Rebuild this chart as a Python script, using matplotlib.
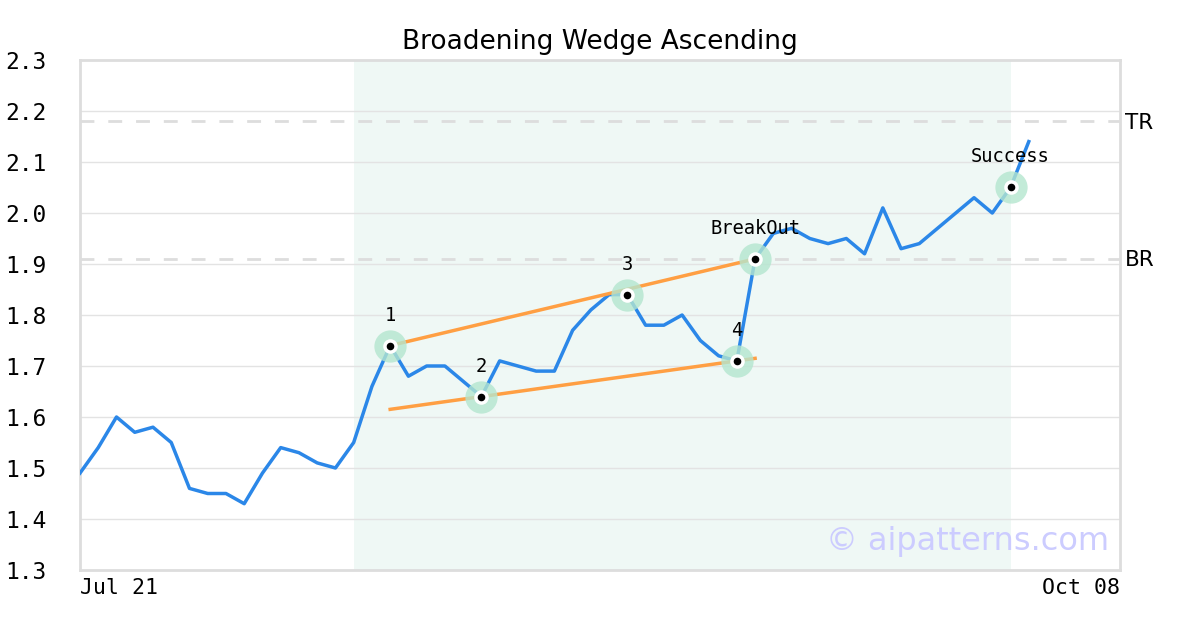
import matplotlib
matplotlib.use("Agg")
import matplotlib.pyplot as plt

values = [1.49, 1.54, 1.60, 1.57, 1.58, 1.55, 1.46, 1.45, 1.45, 1.43,
          1.49, 1.54, 1.53, 1.51, 1.50, 1.55, 1.66, 1.74, 1.68, 1.70,
          1.70, 1.67, 1.64, 1.71, 1.70, 1.69, 1.69, 1.77, 1.81, 1.84,
          1.84, 1.78, 1.78, 1.80, 1.75, 1.72, 1.71, 1.91, 1.96, 1.97,
          1.95, 1.94, 1.95, 1.92, 2.01, 1.93, 1.94, 1.97, 2.00, 2.03,
          2.00, 2.05, 2.14]
x_labels = ["Jul 21", "Oct 08"]
x_max = 57
shade_range = (15, 51)
points_idx = [17, 22, 30, 36, 37, 51]
points_lbl = ["1", "2", "3", "4", "BreakOut", "Success"]
upper_line = ([17, 37], [1.74, 1.91])
lower_line = ([17, 37], [1.615, 1.715])
tr_level = 2.18
br_level = 1.91
yticks = [1.3, 1.4, 1.5, 1.6, 1.7, 1.8, 1.9, 2.0, 2.1, 2.2, 2.3]

fig = plt.figure(figsize=(12, 6.3), dpi=100)
ax = fig.add_axes([80/1200, 60/630, 1040/1200, 510/630])
ax.set_xlim(0, x_max)
ax.set_ylim(1.3, 2.3)

ax.axvspan(shade_range[0], shade_range[1], color="#eff8f5", zorder=0, lw=0)
for y in yticks:
    ax.axhline(y, color="#e3e3e3", lw=1, zorder=1)
for lvl, name in [(tr_level, "TR"), (br_level, "BR")]:
    ax.axhline(lvl, color="#dddddd", lw=2, ls=(0, (5, 5)), zorder=1)
    ax.text(x_max + 0.25, lvl - 0.003, name, fontsize=15.5, va="center", ha="left",
            family="DejaVu Sans")

xs = list(range(len(values)))
ax.plot(xs, values, color="#2b87e8", lw=2.5, zorder=3)
ax.plot(*upper_line, color="#ff9f43", lw=2.5, zorder=4)
ax.plot(*lower_line, color="#ff9f43", lw=2.5, zorder=4)

px = points_idx
py = [values[i] for i in px]
ax.scatter(px, py, s=540, color="#b4e6cf", alpha=0.8, lw=0, zorder=5)
ax.scatter(px, py, s=110, color="white", lw=0, zorder=6)
ax.scatter(px, py, s=30, color="black", lw=0, zorder=7)
for i, lbl in zip(px, points_lbl):
    ax.annotate(lbl, (i, values[i]), xytext=(0, 22), textcoords="offset points",
                ha="center", va="center", fontsize=13.5, family="DejaVu Sans Mono")

ax.set_yticks(yticks)
ax.set_yticklabels([f"{y:.1f}" for y in yticks], family="DejaVu Sans Mono", fontsize=16.5)
ax.tick_params(axis="y", length=0, pad=54)
for lab in ax.get_yticklabels():
    lab.set_horizontalalignment("left")
ax.set_xticks([0, x_max])
ax.set_xticklabels(x_labels, family="DejaVu Sans Mono", fontsize=15.5)
ax.tick_params(axis="x", length=0, pad=6)
xl = ax.get_xticklabels()
xl[0].set_horizontalalignment("left")
xl[1].set_horizontalalignment("right")

for s in ax.spines.values():
    s.set_color("#dddddd")
    s.set_linewidth(2)

ax.set_title("Broadening Wedge Ascending", fontsize=19, pad=8)
ax.text(0.99, 0.055, "© aipatterns.com", transform=ax.transAxes, ha="right",
        va="center", fontsize=23, color="#ccccff", zorder=8)

fig.savefig("out.png", dpi=100)
